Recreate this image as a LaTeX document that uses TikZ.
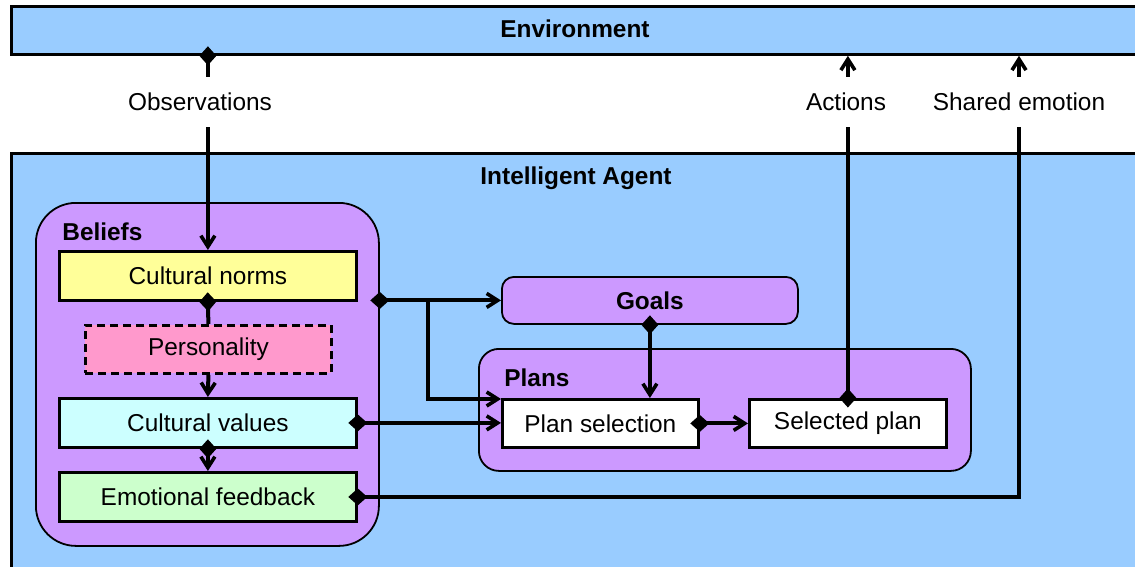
\documentclass[tikz,border=0pt]{standalone}
\usepackage{fontspec}
\setmainfont{Liberation Sans}
\usetikzlibrary{arrows.meta,calc}
\definecolor{skyblue}{HTML}{99CCFF}
\definecolor{lilac}{HTML}{CC99FF}
\definecolor{paleyellow}{HTML}{FFFF99}
\definecolor{pink}{HTML}{FF99CC}
\definecolor{palecyan}{HTML}{CCFFFF}
\definecolor{palegreen}{HTML}{CCFFCC}
\tikzset{
  every node/.style={font=\fontsize{12.2}{14}\selectfont, inner sep=0pt},
  outerbox/.style={draw, line width=1.4pt, fill=skyblue, anchor=north west},
  groupbox/.style={draw, line width=0.9pt, fill=lilac, anchor=north west},
  itembox/.style={draw, line width=1.4pt, anchor=north west, minimum height=24.5pt},
  title/.style={font=\fontsize{12.2}{14}\selectfont\bfseries},
  flowlabel/.style={minimum height=25pt},
  conn/.style={line width=2pt},
  barb/.tip={Straight Barb[length=5.5pt,width=7pt,line width=1.8pt]},
  dmd/.tip={Diamond[length=9.5pt,width=8.5pt,sep=-4.75pt]},
  arr/.style={conn, -barb},
  dsrc/.style={conn, dmd-},
  darr/.style={conn, dmd-barb},
}
\begin{document}
\begin{tikzpicture}[x=0.5pt,y=-0.5pt]
\useasboundingbox[fill=white] (0,0) rectangle (1135,567);

% outer frames
\node[outerbox, minimum width=570pt, minimum height=24pt] (env) at (10,5) {};
\node[title] (envtitle) at (575,29) {Environment};
\node[outerbox, minimum width=570pt, minimum height=220pt] (agent) at (10,152) {};
\node[title] (agenttitle) at (576,178) {Intelligent Agent};

% flow labels between environment and agent
\node[flowlabel] (obs) at (200,102) {Observations};
\node[flowlabel] (act) at (846,102) {Actions};
\node[flowlabel] (shared) at (1019,102) {Shared emotion};

% beliefs group
\node[groupbox, rounded corners=20pt, minimum width=171.5pt, minimum height=171.5pt] (beliefs) at (35,202) {};
\node[title, anchor=west] (beliefstitle) at (62,232) {Beliefs};
\node[itembox, fill=paleyellow, minimum width=148.5pt] (norms) at (58,250) {Cultural norms};
\node[itembox, fill=pink, dash pattern=on 4pt off 2.5pt, minimum width=123pt, minimum height=24pt] (pers) at (84,324) {Personality};
\node[itembox, fill=palecyan, minimum width=148.5pt] (values) at (58,397) {Cultural values};
\node[itembox, fill=palegreen, minimum width=148.5pt] (feedback) at (58,471) {Emotional feedback};

% goals and plans
\node[groupbox, rounded corners=6pt, minimum width=148pt, minimum height=23.5pt, title] (goals) at (501,276) {Goals};
\node[groupbox, rounded corners=10pt, minimum width=246pt, minimum height=61pt] (plans) at (478,348) {};
\node[title, anchor=west] (planstitle) at (504,378) {Plans};
\node[itembox, fill=white, minimum width=98pt, minimum height=24pt] (psel) at (501,398) {Plan selection};
\node[itembox, fill=white, minimum width=98.5pt, minimum height=24pt] (splan) at (748,398) {Selected plan};

% observations into the agent
\draw[dsrc] (norms.north |- env.south) -- (norms.north |- obs.north);
\draw[arr] (norms.north |- obs.south) -- (norms.north);

% within beliefs
\draw[dsrc] (norms.south) -- (pers.north);
\draw[arr] (pers.south) -- (values.north);
\draw[darr] (values.south) -- (feedback.north);

% beliefs to goals and plan selection
\coordinate (bout) at (beliefs.east |- goals.west);
\coordinate (branch) at (428,299.5);
\draw[darr] (bout) -- (goals.west);
\draw[arr] (branch) |- ([yshift=-0.5pt]psel.north west);
\draw[darr] (values.east) -- (values.east -| psel.west);
\draw[darr] (goals.south) -- (goals.south |- psel.north);
\draw[darr] (psel.east) -- (splan.west);

% outputs back to the environment
\draw[dsrc] (splan.north) -- (splan.north |- act.south);
\draw[arr] (splan.north |- act.north) -- (splan.north |- env.south);
\draw[dsrc] (feedback.east) -| (shared.south);
\draw[arr] (shared.north) -- (shared.north |- env.south);
\end{tikzpicture}
\end{document}
